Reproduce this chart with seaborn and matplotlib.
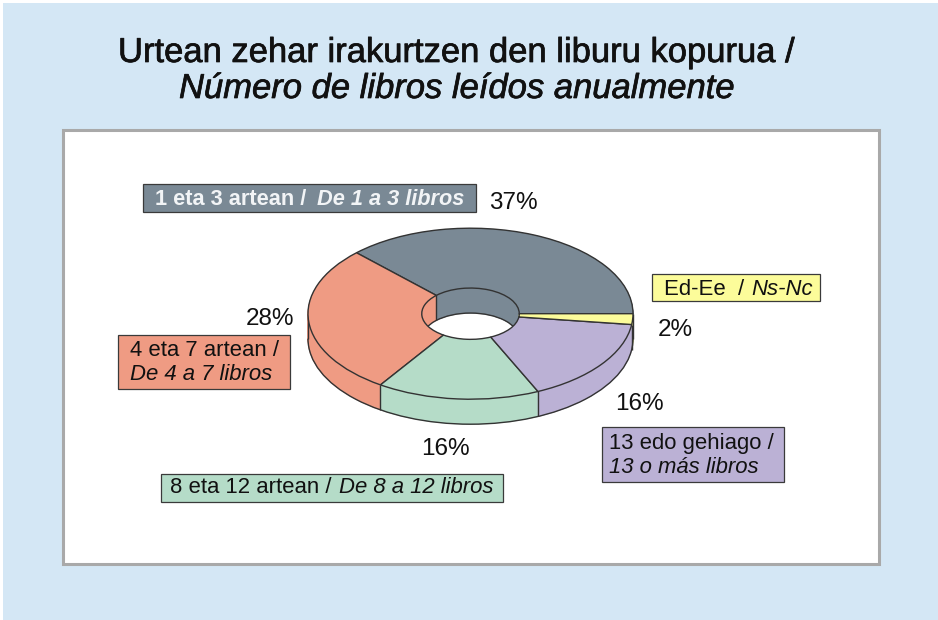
import numpy as np
import matplotlib
matplotlib.use("Agg")
import matplotlib.pyplot as plt
import matplotlib.patheffects as pe
from matplotlib.patches import Rectangle, Arc
import seaborn as sns

# ---- data ----
shares = [37, 28, 16, 16, 2]
colours = ["#7A8995", "#EF9B83", "#B5DCC8", "#BBB1D5", "#FCFC9A"]
title_eu = "Urtean zehar irakurtzen den liburu kopurua /"
title_es = "Número de libros leídos anualmente"

sns.set_theme(style="white")
plt.rcParams["font.family"] = ["Liberation Sans", "DejaVu Sans"]

W, H = 938, 620
fig = plt.figure(figsize=(W / 100, H / 100), dpi=100, facecolor="white")
bg = fig.add_axes([0, 0, 1, 1])
bg.set_xlim(0, W)
bg.set_ylim(H, 0)
bg.axis("off")

INK = "#111111"
bg.add_patch(Rectangle((3, 3), W - 3, H - 3, fc="#D4E7F5", ec="none"))
bg.add_patch(Rectangle((62.5, 130), 816, 434, fc="white", ec="#A9A9A9", lw=2.2))


def box(x0, x1, y0, y1, fc):
    bg.add_patch(Rectangle((x0, y0), x1 - x0, y1 - y0, fc=fc, ec="#3A3A3A", lw=0.9))


def txt(x, y, s, size=15.9, italic=False, color=INK, weight="normal", stroke=0):
    t = bg.text(x, y, s, fontsize=size, color=color, fontweight=weight, ha="left",
                va="baseline", fontstyle="italic" if italic else "normal")
    if stroke:
        t.set_path_effects([pe.withStroke(linewidth=stroke, foreground=color)])


# title
txt(118, 62, title_eu, size=24.9, stroke=0.5)
txt(179, 98, title_es, size=24.9, italic=True, stroke=0.5)

# label boxes
box(142.7, 476, 184, 212.3, colours[0])
txt(155, 205, "1 eta 3 artean / ", size=15.65, color="#F2F4F6", weight="bold")
txt(317, 205, "De 1 a 3 libros", size=15.65, color="#F2F4F6", weight="bold", italic=True)

box(651.7, 820, 274.3, 300.7, colours[4])
txt(664, 295, "Ed-Ee  / ")
txt(751, 295, "Ns-Nc")
bg.texts[-1].set_fontstyle("italic")

box(602.3, 783.7, 427.3, 481.7, colours[3])
txt(609, 449, "13 edo gehiago /")
txt(609, 473, "13 o más libros", italic=True)

box(118, 290, 335, 389, colours[1])
txt(130, 356, "4 eta 7 artean /")
txt(130, 380, "De 4 a 7 libros", italic=True)

box(161, 503, 474, 502, colours[2])
txt(170, 493, "8 eta 12 artean / ")
txt(339, 493, "De 8 a 12 libros", italic=True)

# percentage labels
pct_at = [(489, 209), (246, 325), (421, 455), (615, 410), (658, 336)]
for v, (x, y) in zip(shares, pct_at):
    txt(x, y, f"{v}%", size=17.5)

# ---- 3D ring, drawn from pie() layers in a squashed axes ----
CX, CY = 470.5, 313.7
RX, RY = 162.5, 85.5
DEPTH = 25 / RY
INNER = 0.3
xl = (-1.1, 1.1)
yl = (-1.5, 1.2)
ax = fig.add_axes([(CX + xl[0] * RX) / W, (H - CY + yl[0] * RY) / H,
                   (xl[1] - xl[0]) * RX / W, (yl[1] - yl[0]) * RY / H])
ax.patch.set_alpha(0)

steps = 50
for off in np.linspace(DEPTH, 0, steps + 1)[:-1]:
    wedges, _ = ax.pie(shares, colors=colours, startangle=0, counterclock=True,
                       radius=1, center=(0, -off),
                       wedgeprops=dict(width=1 - INNER, lw=0.6, zorder=1))
    for w in wedges:
        w.set_edgecolor(w.get_facecolor())

LINE = dict(color="#333333", lw=1.0, zorder=2, solid_capstyle="butt")
ax.add_patch(Arc((0, -DEPTH), 2, 2, theta1=180, theta2=360,
                 ec=LINE["color"], lw=LINE["lw"], zorder=2))
ax.add_patch(Arc((0, -DEPTH), 2 * INNER, 2 * INNER, theta1=0, theta2=180,
                 ec=LINE["color"], lw=LINE["lw"], zorder=2))

bounds = np.deg2rad(np.cumsum(shares) / sum(shares) * 360)
for a in list(bounds) + [np.pi]:
    if np.sin(a) <= 1e-9:
        ax.plot([np.cos(a)] * 2, [np.sin(a), np.sin(a) - DEPTH], **LINE)
# edge of the ring's back wall seen through the hole
a = bounds[0]
ax.plot([INNER * np.cos(a)] * 2, [INNER * np.sin(a), INNER * np.sin(a) - DEPTH], **LINE)

ax.pie(shares, colors=colours, startangle=0, counterclock=True, radius=1, center=(0, 0),
       wedgeprops=dict(width=1 - INNER, lw=1.0, edgecolor="#333333", zorder=3))

ax.set_aspect("auto")
ax.set_xlim(*xl)
ax.set_ylim(*yl)
ax.axis("off")

fig.savefig("out.png", dpi=100, facecolor=fig.get_facecolor())
